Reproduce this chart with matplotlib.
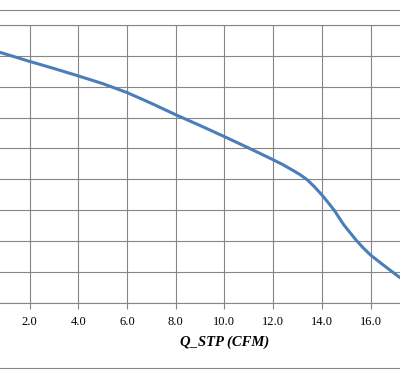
import matplotlib.pyplot as plt
from matplotlib.lines import Line2D
import numpy as np

# fan curve: flow (CFM) vs. pressure (grid units, no y labels shown)
flow = [0.0, 0.8, 2.0, 3.0, 4.0, 5.0, 6.0, 7.0, 8.0, 9.0, 10.0, 11.0, 12.0, 12.4,
        12.8, 13.1, 13.4, 13.7, 14.0, 14.25, 14.5, 14.9, 15.4, 15.7, 16.0, 16.5,
        17.15, 17.8]
pressure = [8.3, 8.11, 7.82, 7.59, 7.35, 7.1, 6.81, 6.46, 6.09, 5.74, 5.38, 5.01, 4.63, 4.47,
            4.29, 4.15, 3.98, 3.75, 3.49, 3.25, 3.0, 2.52, 2.03, 1.77, 1.54, 1.23,
            0.84, 0.5]
x_ticks = [0, 2, 4, 6, 8, 10, 12, 14, 16, 18, 20]
# 0.0, 18.0 and 20.0 fall outside the cropped picture
x_labels = ['', '2.0', '4.0', '6.0', '8.0', '10.0', '12.0', '14.0', '16.0', '', '']

grid_col = '#868686'

fig = plt.figure(figsize=(4.0, 3.77), dpi=100)
# the picture is a crop of a wider chart, so the axes run past the figure edges
ax = fig.add_axes([-19.2 / 400, 74.5 / 377, 487.2 / 400, 277.5 / 377])

ax.plot(flow, pressure, color='#4A7EBB', lw=2.2, solid_capstyle='round',
        solid_joinstyle='round', zorder=3)

ax.set_xlim(0, 20)
ax.set_ylim(0, 9)
ax.set_xticks(x_ticks)
ax.set_xticklabels(x_labels, family='Liberation Serif', fontsize=9)
ax.set_yticks(np.arange(0, 10))
ax.set_yticklabels([])
ax.tick_params(axis='x', direction='out', length=4, width=0.8, color=grid_col, pad=6)
ax.tick_params(axis='y', length=0)
ax.grid(True, color=grid_col, lw=0.8)
for side in ['left', 'right', 'top', 'bottom']:
    ax.spines[side].set_color(grid_col)
    ax.spines[side].set_linewidth(0.8)

ax.set_xlabel('Q_STP (CFM)', family='Liberation Serif', fontsize=10.5,
              fontweight='bold', style='italic', labelpad=5)

# chart area border lines
fig.add_artist(Line2D([0, 1], [1 - 10 / 377, 1 - 10 / 377], color=grid_col, lw=0.8))
fig.add_artist(Line2D([0, 1], [1 - 368 / 377, 1 - 368 / 377], color=grid_col, lw=0.8))

fig.savefig('out.png', dpi=100)
